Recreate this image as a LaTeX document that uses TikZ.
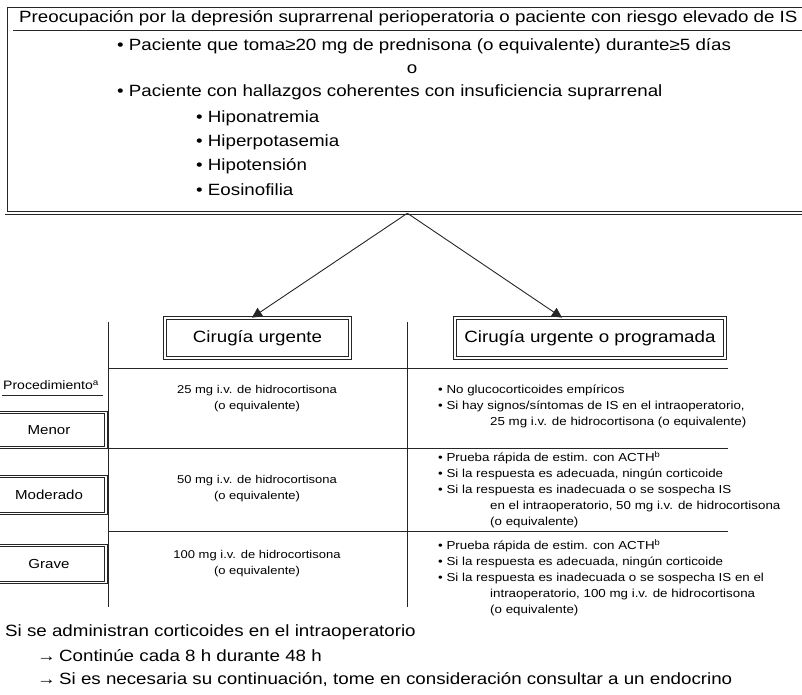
\documentclass[tikz,border=0pt]{standalone}
\usepackage{fontspec}
\setmainfont[FakeStretch=1.15]{Liberation Sans}
\usetikzlibrary{arrows.meta}
\begin{document}
\begin{tikzpicture}[x=1pt,y=-1pt,
  ln/.style={line width=0.9pt,draw=black!85},
  dbl/.style={draw=black!85,double,double distance=1.8pt,line width=0.75pt,inner sep=0pt},
  tx/.style={inner sep=0pt,anchor=west,font=\fontsize{16.3}{19}\selectfont},
  sm/.style={inner sep=0pt,font=\fontsize{11.3}{16}\selectfont},
  smw/.style={inner sep=0pt,anchor=west,font=\fontsize{11.6}{16}\selectfont},
  lab/.style={dbl,font=\fontsize{13.1}{18}\selectfont},
  cir/.style={dbl,font=\fontsize{16.3}{20}\selectfont},
  arr/.style={ln,-{Triangle[length=10pt,width=10pt]}}]
\useasboundingbox (0,0) rectangle (802,695);
\begin{scope}
\clip (0,0) rectangle (802,695);
% top box
\node[dbl,anchor=north west,minimum width=802pt,minimum height=206.5pt] (topbox) at (6,6) {};
\node[tx] (hdr) at (19,18) {Preocupación por la depresión suprarrenal perioperatoria o paciente con riesgo elevado de IS};
\coordinate (ul1) at (13,30);
\coordinate (ul2) at (810,30);
\draw[ln] (ul1) -- (ul2);
\node[tx] (b1) at (117,46) {• Paciente que toma≥20 mg de prednisona (o equivalente) durante≥5 días};
\node[tx,anchor=center] (o) at (412,69) {o};
\node[tx] (b2) at (117,92) {• Paciente con hallazgos coherentes con insuficiencia suprarrenal};
\node[tx] (s1) at (196,118) {• Hiponatremia};
\node[tx] (s2) at (196,142) {• Hiperpotasemia};
\node[tx] (s3) at (196,166) {• Hipotensión};
\node[tx] (s4) at (196,190) {• Eosinofilia};
% surgery boxes
\node[cir,minimum width=185pt,minimum height=40pt] (cu) at (257.5,338) {Cirugía urgente};
\node[cir,minimum width=270pt,minimum height=40pt] (cp) at (590,338) {Cirugía urgente o programada};
\draw[arr] (topbox.south) -- ([xshift=-5.5pt]cu.north);
\draw[arr] (topbox.south) -- ([xshift=-28pt]cp.north);
% grid
\coordinate (v1t) at (108,322); \coordinate (v1b) at (108,607);
\coordinate (v2t) at (407,322); \coordinate (v2b) at (407,607);
\draw[ln] (v1t) -- (v1b);
\draw[ln] (v2t) -- (v2b);
\coordinate (h1a) at (108,368); \coordinate (h1b) at (728,368);
\coordinate (h2a) at (108,448); \coordinate (h2b) at (728,448);
\coordinate (h3a) at (108,531); \coordinate (h3b) at (728,531);
\draw[ln] (h1a) -- (h1b);
\draw[ln] (h2a) -- (h2b);
\draw[ln] (h3a) -- (h3b);
% left column
\node[inner sep=0pt,anchor=west,font=\fontsize{12.2}{17}\selectfont] (proc) at (3,385) {Procedimiento\textsuperscript{a}};
\coordinate (pl1) at (2,395); \coordinate (pl2) at (103,395);
\draw[ln] (pl1) -- (pl2);
\node[lab,minimum width=114pt,minimum height=35pt] (menor) at (49,430) {Menor};
\node[lab,minimum width=114pt,minimum height=37pt] (mod) at (49,495) {Moderado};
\node[lab,minimum width=114pt,minimum height=37pt] (grave) at (49,564) {Grave};
% middle column
\node[sm,align=center] (m1) at (257,399) {25 mg i.v. de hidrocortisona\\(o equivalente)};
\node[sm,align=center] (m2) at (257,489) {50 mg i.v. de hidrocortisona\\(o equivalente)};
\node[sm,align=center] (m3) at (257,564) {100 mg i.v. de hidrocortisona\\(o equivalente)};
% right column
\node[smw] (r11) at (438,390) {• No glucocorticoides empíricos};
\node[smw] (r12) at (438,406) {• Si hay signos/síntomas de IS en el intraoperatorio,};
\node[smw] (r13) at (490,422) {25 mg i.v. de hidrocortisona (o equivalente)};
\node[smw] (r21) at (438,458) {• Prueba rápida de estim. con ACTH\textsuperscript{b}};
\node[smw] (r22) at (438,474) {• Si la respuesta es adecuada, ningún corticoide};
\node[smw] (r23) at (438,490) {• Si la respuesta es inadecuada o se sospecha IS};
\node[smw] (r24) at (490,506) {en el intraoperatorio, 50 mg i.v. de hidrocortisona};
\node[smw] (r25) at (490,522) {(o equivalente)};
\node[smw] (r31) at (438,546) {• Prueba rápida de estim. con ACTH\textsuperscript{b}};
\node[smw] (r32) at (438,562) {• Si la respuesta es adecuada, ningún corticoide};
\node[smw] (r33) at (438,578) {• Si la respuesta es inadecuada o se sospecha IS en el};
\node[smw] (r34) at (490,594) {intraoperatorio, 100 mg i.v. de hidrocortisona};
\node[smw] (r35) at (490,610) {(o equivalente)};
% bottom
\node[tx] (f1) at (5,632) {Si se administran corticoides en el intraoperatorio};
\node[tx] (f2) at (37,656) {→\hspace{-2pt} Continúe cada 8 h durante 48 h};
\node[tx] (f3) at (37,680) {→\hspace{-2pt} Si es necesaria su continuación, tome en consideración consultar a un endocrino};
\end{scope}
\end{tikzpicture}
\end{document}
